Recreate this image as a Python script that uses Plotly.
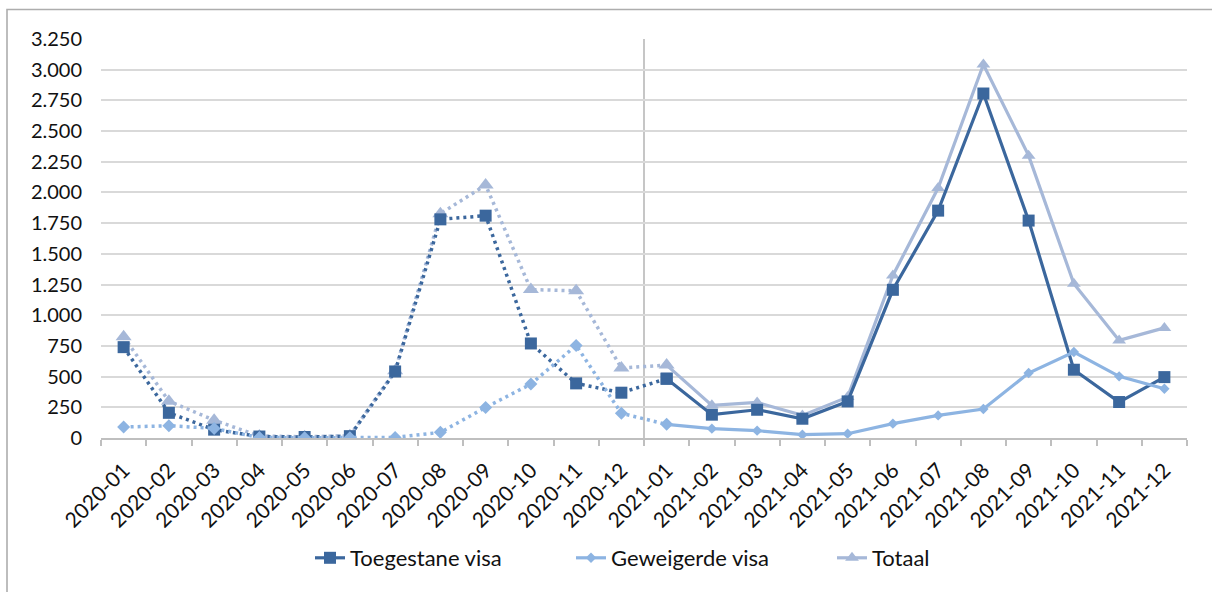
import plotly.graph_objects as go

months = ["2020-01", "2020-02", "2020-03", "2020-04", "2020-05", "2020-06",
          "2020-07", "2020-08", "2020-09", "2020-10", "2020-11", "2020-12",
          "2021-01", "2021-02", "2021-03", "2021-04", "2021-05", "2021-06",
          "2021-07", "2021-08", "2021-09", "2021-10", "2021-11", "2021-12"]

toegestaan = [740, 205, 68, 12, 8, 15, 542, 1781, 1811, 770, 445, 369,
              483, 190, 230, 157, 298, 1207, 1852, 2806, 1771, 556, 293, 496]
geweigerd = [89, 100, 78, 4, 2, 3, 5, 46, 249, 439, 754, 201,
             111, 76, 60, 27, 35, 117, 184, 236, 529, 700, 502, 401]
totaal = [825, 300, 145, 16, 10, 18, 547, 1827, 2060, 1209, 1199, 570,
          594, 266, 290, 184, 333, 1324, 2036, 3042, 2300, 1256, 795, 897]

names = ["Toegestane visa", "Geweigerde visa", "Totaal"]
y_ticks = list(range(0, 3251, 250))

C_TOEG = "#3B679D"
C_GEW = "#8DB4E2"
C_TOT = "#A6B8D8"

FONT = "Lato"
W, H = 1212, 592
L, R, T, B = 101, 25, 39, 154

fig = go.Figure()

series = [
    (totaal, names[2], C_TOT, "triangle-up", 14, 12, 3),
    (toegestaan, names[0], C_TOEG, "square", 12, 12, 1),
    (geweigerd, names[1], C_GEW, "diamond", 10, 8, 2),
]
split = 12
for vals, name, col, sym, s_dot, s_sol, rank in series:
    fig.add_trace(go.Scatter(
        x=months[:split + 1], y=vals[:split + 1], mode="lines+markers",
        name=name, showlegend=False,
        line=dict(color=col, width=3.5, dash="3px,4px"),
        marker=dict(symbol=sym, size=s_dot, color=col),
        hoverinfo="x+y+name"))
    fig.add_trace(go.Scatter(
        x=months[split:], y=vals[split:], mode="lines+markers",
        name=name, showlegend=True, legendrank=rank,
        line=dict(color=col, width=3.2),
        marker=dict(symbol=sym, size=s_sol, color=col),
        hoverinfo="x+y+name"))

pw = W - L - R
ph = H - T - B

def px_x(x):
    return (x - L) / pw

def px_y(y):
    return (H - B - y) / ph

shapes = [
    dict(type="line", xref="x", yref="paper", x0=split - 0.5, x1=split - 0.5,
         y0=0, y1=1, line=dict(color="#A0A0A0", width=1.2), layer="below"),
    dict(type="rect", xref="paper", yref="paper",
         x0=px_x(7), x1=px_x(W + 5), y0=px_y(H + 5), y1=px_y(9.5),
         line=dict(color="#ADADAD", width=1.6), fillcolor="rgba(0,0,0,0)"),
]

fig.update_layout(
    width=W, height=H,
    margin=dict(l=L, r=R, t=T, b=B, autoexpand=False),
    paper_bgcolor="white", plot_bgcolor="white",
    separators=",.",
    font=dict(family=FONT, size=20, color="#111111"),
    showlegend=True,
    legend=dict(orientation="h", xref="container", yref="container",
                x=(317 - 7) / W, xanchor="left", y=(H - 558) / H, yanchor="middle",
                font=dict(family=FONT, size=22, color="#111111"),
                entrywidth=216, traceorder="normal"),
    shapes=shapes,
    xaxis=dict(type="category", categoryorder="array", categoryarray=months,
               range=[-0.5, len(months) - 0.5], tickson="boundaries",
               ticks="outside", ticklen=6, tickcolor="#BFBFBF", tickwidth=1.5,
               showline=True, linecolor="#BFBFBF", linewidth=1.5,
               showgrid=False, tickangle=-45, zeroline=False,
               ticklabelstandoff=10, automargin=False,
               tickfont=dict(family=FONT, size=21, color="#111111")),
    yaxis=dict(range=[0, 3250], tickvals=y_ticks, tickformat=",d",
               showgrid=True, gridcolor="#D9D9D9", gridwidth=1.5,
               zeroline=False, showline=False, ticks="",
               ticklabelstandoff=18, automargin=False,
               tickfont=dict(family=FONT, size=20, color="#111111")),
)

fig.write_html("out.html", config={"displayModeBar": False},
               post_script="document.body.style.margin='0';document.body.style.overflow='hidden';")
